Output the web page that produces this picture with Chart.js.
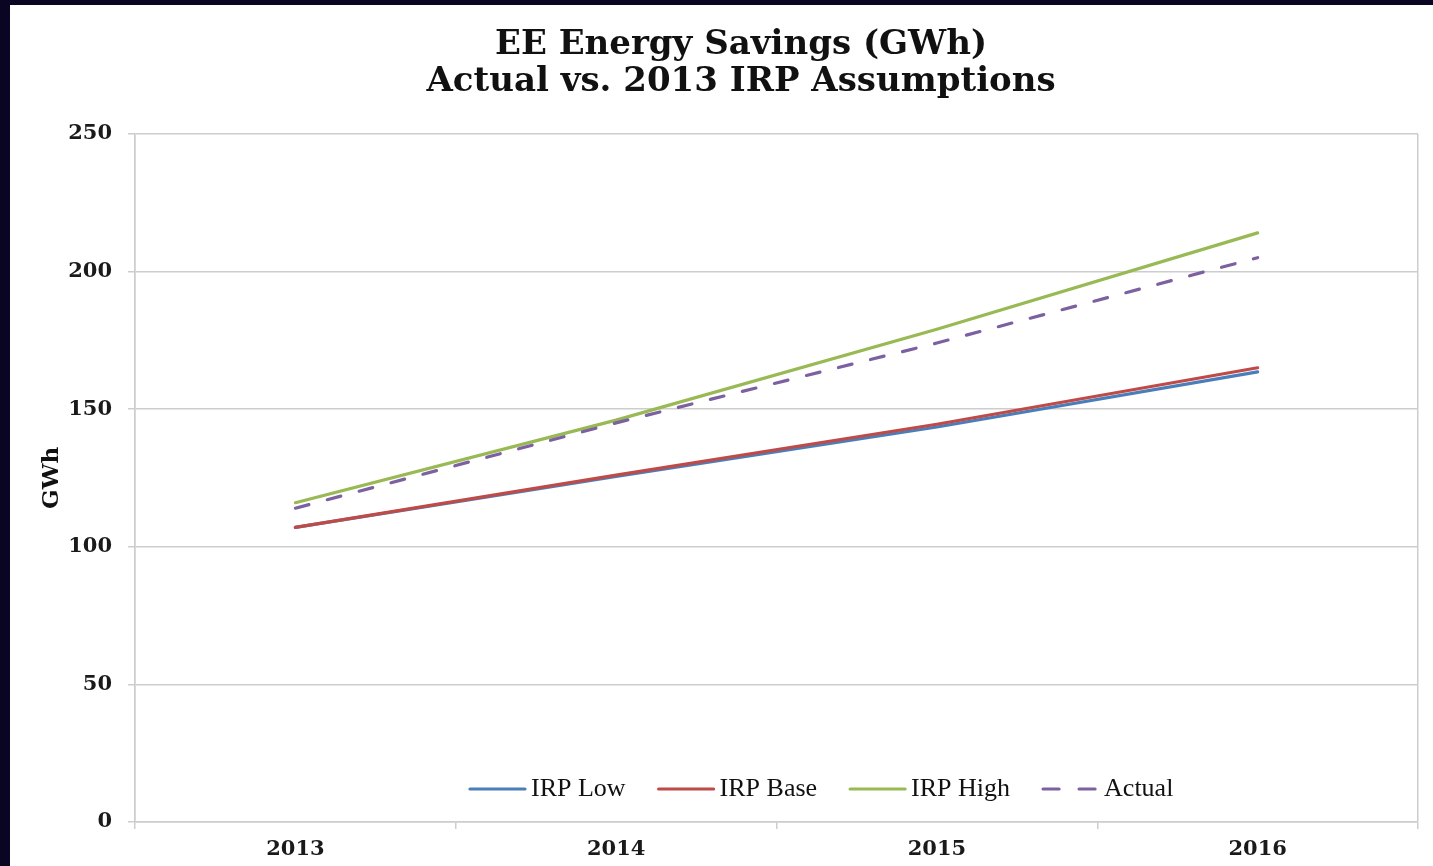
<!DOCTYPE html>
<html><head><meta charset="utf-8">
<script src="https://cdn.jsdelivr.net/npm/chart.js@4.4.1/dist/chart.umd.min.js"></script>
<style>
html,body{margin:0;padding:0;width:1433px;height:866px;overflow:hidden;background:#0a0522;}
#wrap{position:absolute;left:10px;top:5px;width:1462px;height:861px;background:#fff;}
</style></head><body>
<div id="wrap"><canvas id="c"></canvas></div>
<script>
const years = ['2013', '2014', '2015', '2016'];
const irpLow = [107, 125.5, 143.5, 163.5];
const irpBase = [107, 126, 144.5, 165];
const irpHigh = [116, 146, 179, 214];
const actual = [114, 145, 174, 205];
const seriesNames = ['IRP Low', 'IRP Base', 'IRP High', 'Actual'];
const titleLines = ['EE Energy Savings (GWh)', 'Actual vs. 2013 IRP Assumptions'];

const GRID = '#cdcdcd';
const SERIF = '"DejaVu Serif", serif';

const insideLegend = {
  id: 'insideLegend',
  afterDraw(chart) {
    const ctx = chart.ctx;
    const y = chart.chartArea.bottom - 33;
    let x = 460;
    ctx.save();
    ctx.font = '26px "Liberation Serif", serif';
    ctx.textBaseline = 'middle';
    ctx.textAlign = 'left';
    chart.data.datasets.forEach(ds => {
      ctx.strokeStyle = ds.borderColor;
      ctx.lineWidth = 3.2;
      ctx.lineCap = 'round';
      ctx.setLineDash(ds.borderDash ? [16, 20] : []);
      ctx.beginPath(); ctx.moveTo(x, y); ctx.lineTo(x + 55, y); ctx.stroke();
      ctx.setLineDash([]);
      ctx.fillStyle = '#111';
      ctx.fillText(ds.label, x + 61, y);
      x += 61 + ctx.measureText(ds.label).width + 33;
    });
    ctx.restore();
  }
};

const mk = (label, data, color, order, dash) => ({
  label, data, borderColor: color, backgroundColor: color,
  borderWidth: 3.2, pointRadius: 0, pointHoverRadius: 0, tension: 0,
  borderCapStyle: 'round', borderDash: dash, order, fill: false, yAxisID: 'y'
});

new Chart(document.getElementById('c'), {
  type: 'line',
  data: {
    labels: years,
    datasets: [
      mk(seriesNames[0], irpLow, '#4a7ebb', 3),
      mk(seriesNames[1], irpBase, '#be4b48', 2),
      mk(seriesNames[2], irpHigh, '#98b954', 1),
      mk(seriesNames[3], actual, '#7d60a0', 0, [14, 19])
    ]
  },
  options: {
    responsive: true, maintainAspectRatio: false, animation: false,
    layout: { padding: 0 },
    plugins: {
      legend: { display: false },
      tooltip: { enabled: false },
      title: {
        display: true, text: titleLines, color: '#111',
        font: { family: SERIF, size: 34, weight: 'bold', lineHeight: 1.1 },
        padding: { top: 21, bottom: 33 }
      }
    },
    scales: {
      x: {
        offset: true,
        grid: {
          offset: true, lineWidth: 1.5, tickLength: 7, tickColor: GRID, tickWidth: 1.5,
          color: ctx => (ctx.type === 'scale' || ctx.index === 0) ? GRID : 'rgba(0,0,0,0)'
        },
        border: { color: GRID, width: 1.5 },
        ticks: { color: '#1a1a1a', padding: 8, font: { family: SERIF, size: 21, weight: 'bold' } },
        afterFit: s => { s.height = 44; }
      },
      y: {
        min: 0, max: 250,
        grid: { color: GRID, lineWidth: 1.5, tickLength: 7 },
        border: { color: GRID, width: 1.5 },
        ticks: { stepSize: 50, color: '#1a1a1a', padding: 16, font: { family: SERIF, size: 21, weight: 'bold' } },
        title: { display: true, text: 'GWh', color: '#111', padding: { top: 28, bottom: 0 },
          font: { family: SERIF, size: 23, weight: 'bold' } },
        afterFit: s => { s.width = 125; }
      },
      spacer: {
        type: 'linear', position: 'right', display: true,
        grid: { display: false, drawOnChartArea: false, drawTicks: false },
        border: { display: false },
        ticks: { display: false },
        afterFit: s => { s.width = 54; }
      }
    }
  },
  plugins: [insideLegend]
});
</script>
</body></html>
